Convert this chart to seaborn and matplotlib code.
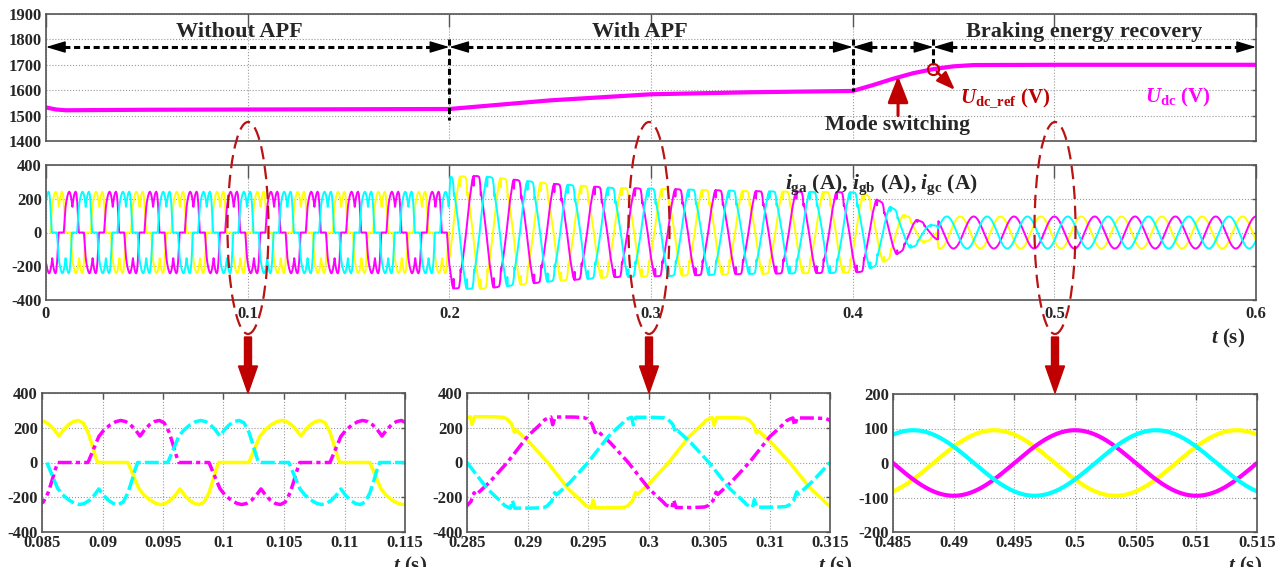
import numpy as np
import pandas as pd
import matplotlib
matplotlib.use("Agg")
import matplotlib.pyplot as plt
import seaborn as sns
from matplotlib.patches import Ellipse, Polygon

# ---- data ------------------------------------------------------------------
# DC-link voltage (top panel)
udc_t = [0, 0.005, 0.01, 0.05, 0.1, 0.15, 0.2, 0.25, 0.3, 0.35, 0.4,
         0.41, 0.42, 0.43, 0.44, 0.45, 0.46, 0.5, 0.6]
udc_v = [1532, 1524, 1521, 1523, 1524, 1525, 1526, 1560, 1584, 1592, 1597,
         1620, 1645, 1667, 1683, 1694, 1699, 1700, 1700]

# one positive conduction pulse of the diode-rectifier current, no APF (ms, A)
pulse_ms = [0, 0.3, 0.6, 0.9, 1.3, 1.8, 2.3, 2.7, 3.1, 3.5, 3.9, 4.3, 4.7,
            5.1, 5.5, 5.9, 6.3, 6.7, 7.0, 7.3, 7.5]
pulse_a = [0, 50, 100, 150, 185, 215, 235, 242, 236, 218, 190, 152, 190,
           218, 236, 242, 228, 175, 110, 40, 0]
# pulse start of each phase inside the 20 ms period (s)
pulse_start = [0.0021, 0.0088, 0.0154]

# APF mode: positive half-wave shape around the peak (ms from peak, per unit)
half_ms = [-5.0, -3.3, -2.1, -1.9, -1.6, -1.4, -1.25, -1.05, -0.5, 0.5, 1.3,
           1.6, 2.0, 2.25, 2.4, 3.5, 5.0]
half_pu = [0.0, 0.58, 0.88, 0.94, 0.98, 1.0, 0.83, 1.0, 1.0, 1.0, 0.99,
           0.96, 0.85, 0.66, 0.71, 0.44, 0.0]
# APF mode: envelope of the current peaks (s, A)
apf_env_t = [0.2, 0.215, 0.25, 0.28, 0.3, 0.35, 0.4, 0.405, 0.412, 0.419,
             0.425, 0.432, 0.438, 0.4425]
apf_env_a = [330, 335, 290, 265, 260, 245, 238, 232, 195, 150, 105, 75, 45, 40]
apf_peak = [0.00667, 0.01333, 0.0]   # first positive peak of each phase (s)
# braking energy recovery mode
brake_amp = 95
brake_phase = [120, 0, -120]    # deg
grid_freq = 50
t_apf, t_brake = 0.2, 0.4425

phases = ["a", "b", "c"]
colors = {"a": "#FFFF00", "b": "#FF00FF", "c": "#00FFFF"}

main_xticks = [0, 0.1, 0.2, 0.3, 0.4, 0.5, 0.6]
main_xlabels = ["0", "0.1", "0.2", "0.3", "0.4", "0.5", "0.6"]
zoom_windows = [(0.085, 0.115), (0.285, 0.315), (0.485, 0.515)]
zoom_xlabels = [["0.085", "0.09", "0.095", "0.1", "0.105", "0.11", "0.115"],
                ["0.285", "0.29", "0.295", "0.3", "0.305", "0.31", "0.315"],
                ["0.485", "0.49", "0.495", "0.5", "0.505", "0.51", "0.515"]]
zoom_yticks = [[-400, -200, 0, 200, 400], [-400, -200, 0, 200, 400],
               [-200, -100, 0, 100, 200]]

# ---- build the current waveforms ------------------------------------------
frames = []
ms = np.concatenate([pulse_ms, np.array(pulse_ms) + 10])
amp = np.concatenate([pulse_a, -np.array(pulse_a)])
hms = np.concatenate([half_ms[:-1], np.array(half_ms[:-1]) + 10])
hpu = np.concatenate([half_pu[:-1], -np.array(half_pu[:-1])])
t_b = np.arange(t_brake, 0.6 + 1e-9, 0.00005)
w = 2 * np.pi * grid_freq
for k, ph in enumerate(phases):
    # without APF: rectifier pulses
    t0 = np.concatenate([pulse_start[k] + 0.02 * n + ms / 1000 for n in range(-1, 11)])
    i0 = np.tile(amp, 12)
    keep0 = (t0 >= 0) & (t0 < t_apf)
    # with APF: near-sinusoidal half waves scaled by the envelope
    t1 = np.concatenate([apf_peak[k] + 0.02 * n + hms / 1000 for n in range(9, 24)])
    i1 = np.tile(hpu, 15) * np.interp(t1, apf_env_t, apf_env_a)
    keep1 = (t1 >= t_apf) & (t1 < t_brake)
    # braking: sinusoidal
    i2 = brake_amp * np.cos(w * t_b + np.deg2rad(brake_phase[k]))
    frames.append(pd.DataFrame({"t": np.concatenate([t0[keep0], t1[keep1], t_b]),
                                "i": np.concatenate([i0[keep0], i1[keep1], i2]),
                                "phase": ph}))
df = pd.concat(frames, ignore_index=True)

# ---- style -------------------------------------------------------------------
sns.set_style("white")
plt.rcParams["font.family"] = ["Liberation Serif", "DejaVu Serif"]
plt.rcParams["font.weight"] = "bold"
plt.rcParams["axes.unicode_minus"] = False
plt.rcParams["mathtext.fontset"] = "custom"
plt.rcParams["mathtext.rm"] = "Liberation Serif:bold"
plt.rcParams["mathtext.bf"] = "Liberation Serif:bold"
plt.rcParams["mathtext.it"] = "Liberation Serif:bold:italic"

W, H = 1287, 567
fig = plt.figure(figsize=(W / 100, H / 100), dpi=100)


def px_box(l, t, r, b):
    return [l / W, 1 - b / H, (r - l) / W, (b - t) / H]


def style_axes(ax, xlen=4):
    for s in ax.spines.values():
        s.set_color("#555555")
        s.set_linewidth(1.2)
    ax.tick_params(direction="in", top=True, right=True, width=1,
                   color="#555555", labelsize=12, pad=3)
    ax.tick_params(axis="x", length=xlen, pad=4)
    ax.tick_params(axis="y", length=3)
    ax.grid(True, linestyle=":", color="#999999", linewidth=0.8)
    ax.set_axisbelow(True)
    ax.set_xlabel("")
    ax.set_ylabel("")


# top panel: Udc
ax_u = fig.add_axes(px_box(46, 14, 1256, 141))
sns.lineplot(x=udc_t, y=udc_v, color="#FF00FF", linewidth=3, ax=ax_u)
ax_u.set_xlim(0, 0.6)
ax_u.set_ylim(1400, 1900)
ax_u.set_xticks(main_xticks)
ax_u.set_xticklabels([])
ax_u.set_yticks([1400, 1500, 1600, 1700, 1800, 1900])
ax_u.set_yticklabels(["1400", "1500", "1600", "1700", "1800", "1900"])
style_axes(ax_u, xlen=9)

# middle panel: grid currents
ax_i = fig.add_axes(px_box(46, 165, 1256, 300))
sns.lineplot(data=df, x="t", y="i", hue="phase", hue_order=phases,
             palette=colors, estimator=None, legend=False, linewidth=1.4, ax=ax_i)
ax_i.set_xlim(0, 0.6)
ax_i.set_ylim(-400, 400)
ax_i.set_xticks(main_xticks)
ax_i.set_xticklabels(main_xlabels)
ax_i.set_yticks([-400, -200, 0, 200, 400])
ax_i.set_yticklabels(["-400", "-200", "0", "200", "400"])
style_axes(ax_i, xlen=9)

# zoomed panels
boxes = [(42, 393, 405, 532), (467, 393, 830, 532), (893, 394, 1257, 532)]
dash_map = {"a": "", "b": (4, 1.2, 1.2, 1.2), "c": (4, 1.2)}
for n, (box, (x0, x1)) in enumerate(zip(boxes, zoom_windows)):
    ax = fig.add_axes(px_box(*box))
    sub = df[(df.t >= x0 - 0.001) & (df.t <= x1 + 0.001)]
    if n < 2:
        sns.lineplot(data=sub, x="t", y="i", hue="phase", hue_order=phases,
                     palette=colors, style="phase", style_order=phases,
                     dashes=dash_map, estimator=None, legend=False,
                     linewidth=2.5, ax=ax)
    else:
        sns.lineplot(data=sub, x="t", y="i", hue="phase", hue_order=phases,
                     palette=colors, estimator=None, legend=False,
                     linewidth=3, ax=ax)
    ax.set_xlim(x0, x1)
    yt = zoom_yticks[n]
    ax.set_ylim(yt[0], yt[-1])
    ax.set_xticks(np.linspace(x0, x1, 7))
    ax.set_xticklabels(zoom_xlabels[n])
    ax.set_yticks(yt)
    ax.set_yticklabels([str(v) for v in yt])
    style_axes(ax)
    ax.tick_params(axis="x", pad=2)
    fig.text((box[2] + 22) / W if n < 2 else 1262 / W, 1 - 555 / H,
             r"$t$ (s)", ha="right", va="top", fontsize=15)

# ---- annotations ------------------------------------------------------------
ya = 1770
dash = (0, (2, 1.2))
for xa, xb in [(0, 0.2), (0.2, 0.4), (0.4, 0.44), (0.44, 0.6)]:
    ax_u.plot([xa + 0.004, xb - 0.004], [ya, ya], color="k", lw=2.2, ls=dash)
    for tip, back in [(xa, xa + 0.008), (xb, xb - 0.008)]:
        ax_u.annotate("", xy=(tip, ya), xytext=(back, ya),
                      arrowprops=dict(arrowstyle="-|>,head_length=1.0,head_width=0.3",
                                      color="k", lw=1, mutation_scale=12,
                                      shrinkA=0, shrinkB=0))
for xv, ylo in [(0.2, 1483), (0.4, 1597), (0.44, 1690)]:
    ax_u.plot([xv, xv], [1800, ylo], color="k", lw=2.2, ls=dash)

ax_u.text(0.096, 1829, "Without APF", ha="center", va="center", fontsize=16)
ax_u.text(0.2945, 1829, "With APF", ha="center", va="center", fontsize=16)
ax_u.text(0.515, 1829, "Braking energy recovery", ha="center", va="center", fontsize=16)
ax_u.text(0.422, 1463, "Mode switching", ha="center", va="center", fontsize=15.5)

red = "#C00000"
ax_u.annotate("", xy=(0.4225, 1656), xytext=(0.4225, 1500),
              arrowprops=dict(arrowstyle="-|>,head_length=0.9,head_width=0.35",
                              color=red, lw=2.2, mutation_scale=18, shrinkA=0, shrinkB=0))
ax_u.plot([0.44], [1683], "o", mfc="none", mec=red, ms=8, mew=1.5)
ax_u.annotate("", xy=(0.4507, 1601), xytext=(0.4417, 1673),
              arrowprops=dict(arrowstyle="-|>,head_length=0.8,head_width=0.3",
                              color=red, lw=1.8, mutation_scale=14, shrinkA=0, shrinkB=0))
ax_u.text(0.4532, 1573, r"$U_{\mathrm{dc\_ref}}$ (V)", color=red, ha="left",
          va="center", fontsize=15)
ax_u.text(0.545, 1573, r"$U_{\mathrm{dc}}$ (V)", color="#FF00FF", ha="left",
          va="center", fontsize=15)

ax_i.text(0.3665, 281, r"$i_{\mathrm{ga}}$ (A), $i_{\mathrm{gb}}$ (A), $i_{\mathrm{gc}}$ (A)",
          ha="left", va="center", fontsize=15.5)
fig.text(1245 / W, 1 - 338 / H, r"$t$ (s)", ha="right", va="center", fontsize=15)

# red dashed ellipses and the arrows pointing to the zoomed panels
for xc in [248, 649, 1055]:
    fig.add_artist(Ellipse((xc / W, 1 - 228 / H), 41 / W, 212 / H,
                           fill=False, edgecolor="#B81414", lw=1.6,
                           ls=(0, (6, 3)), transform=fig.transFigure))
    y0, y1, hl, sw, hw = 337, 393, 27, 3.5, 9.5
    pts = [(xc - sw, y0), (xc + sw, y0), (xc + sw, y1 - hl), (xc + hw, y1 - hl),
           (xc, y1), (xc - hw, y1 - hl), (xc - sw, y1 - hl)]
    fig.add_artist(Polygon([(x / W, 1 - y / H) for x, y in pts], closed=True,
                           facecolor=red, edgecolor=red, transform=fig.transFigure))

fig.savefig("out.png", dpi=100)
